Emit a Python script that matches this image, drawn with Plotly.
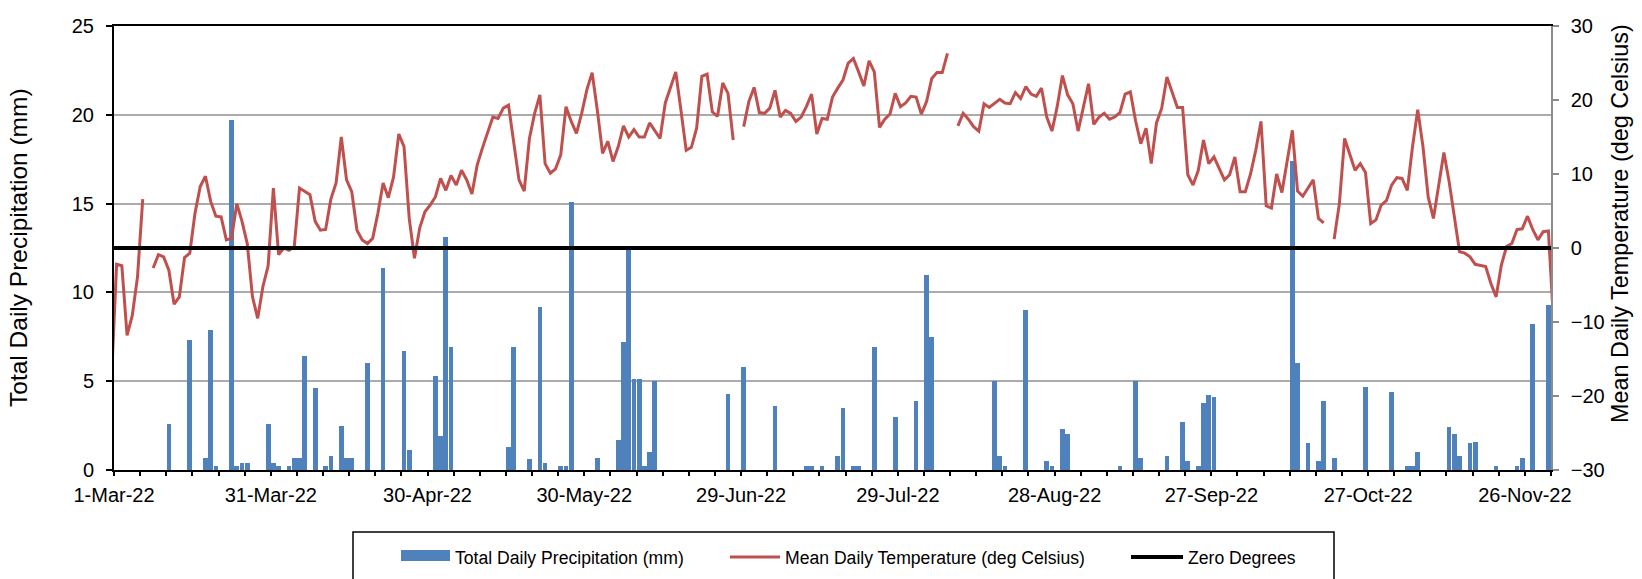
import pandas as pd
import plotly.graph_objects as go

# ---------------- data ----------------
# daily dates (28-Feb-22 .. 1-Dec-22); the axis shows 1-Mar-22 .. 1-Dec-22
dates = pd.date_range("2022-02-28", "2022-12-01", freq="D").strftime("%Y-%m-%d").tolist()

# Total Daily Precipitation (mm)
precip_feb28 = [0]
precip_mar = [0, 0, 0, 0, 0, 0, 0, 0, 0, 0,
              2.6, 0, 0, 0, 7.3, 0, 0, 0.7, 7.9, 0.2,
              0, 0, 19.7, 0.2, 0.4, 0.4, 0, 0, 0, 2.6,
              0.4]
precip_apr = [0.2, 0, 0.2, 0.7, 0.7, 6.4, 0, 4.6, 0, 0.2,
              0.8, 0, 2.5, 0.7, 0.7, 0, 0, 6.0, 0, 0,
              11.4, 0, 0, 0, 6.7, 1.1, 0, 0, 0, 0]
precip_may = [5.3, 1.9, 13.1, 6.9, 0, 0, 0, 0, 0, 0,
              0, 0, 0, 0, 1.3, 6.9, 0, 0, 0.6, 0,
              9.2, 0.4, 0, 0, 0.2, 0.2, 15.1, 0, 0, 0,
              0]
precip_jun = [0.7, 0, 0, 0, 1.7, 7.2, 12.5, 5.1, 5.1, 0.2,
              1.0, 5.0, 0, 0, 0, 0, 0, 0, 0, 0,
              0, 0, 0, 0, 0, 4.3, 0, 0, 5.8, 0]
precip_jul = [0, 0, 0, 0, 3.6, 0, 0, 0, 0, 0,
              0.2, 0.2, 0, 0.2, 0, 0, 0.8, 3.5, 0, 0.2,
              0.2, 0, 0, 6.9, 0, 0, 0, 3.0, 0, 0,
              0]
precip_aug = [3.9, 0, 11.0, 7.5, 0, 0, 0, 0, 0, 0,
              0, 0, 0, 0, 0, 5.0, 0.8, 0.2, 0, 0,
              0, 9.0, 0, 0, 0, 0.5, 0.2, 0, 2.3, 2.0,
              0]
precip_sep = [0, 0, 0, 0, 0, 0, 0, 0, 0.2, 0,
              0, 5.0, 0.7, 0, 0, 0, 0, 0.8, 0, 0,
              2.7, 0.5, 0, 0.2, 3.8, 4.2, 4.1, 0, 0, 0]
precip_oct = [0, 0, 0, 0, 0, 0, 0, 0, 0, 0,
              0, 17.4, 6.0, 0, 1.5, 0, 0.5, 3.9, 0, 0.7,
              0, 0, 0, 0, 0, 4.7, 0, 0, 0, 0,
              4.4]
precip_nov = [0, 0, 0.2, 0.2, 1.0, 0, 0, 0, 0, 0,
              2.4, 2.0, 0.8, 0, 1.5, 1.6, 0, 0, 0, 0.2,
              0, 0, 0, 0.2, 0.7, 0, 8.2, 0, 0, 9.3]
precip_dec1 = [0]

# Mean Daily Temperature (deg Celsius); None = missing day
temp_feb28 = [-18.0]
temp_mar = [-2.2, -2.4, -11.8, -9.1, -3.9, 6.6, None, -2.7, -0.9, -1.2,
            -3.0, -7.6, -6.6, -1.3, -0.7, 4.7, 8.3, 9.7, 6.3, 4.3,
            4.2, 1.1, 1.3, 6.0, 3.6, 0.6, -6.6, -9.5, -5.2, -2.4,
            8.1]
temp_apr = [-0.9, 0.0, -0.3, 0.2, 8.1, 7.6, 7.2, 3.6, 2.4, 2.5,
            6.6, 8.8, 15.0, 9.2, 7.6, 2.4, 1.1, 0.6, 1.3, 4.7,
            8.8, 6.8, 9.6, 15.4, 13.7, 4.0, -1.4, 2.7, 4.9, 5.8]
temp_may = [6.9, 9.4, 7.8, 9.8, 8.5, 10.5, 9.2, 7.3, 11.2, 13.5,
            15.7, 17.7, 17.5, 18.9, 19.3, 13.9, 9.2, 7.7, 14.8, 18.2,
            20.7, 11.4, 10.1, 10.7, 12.6, 19.1, 17.1, 15.5, 18.2, 21.4,
            23.7]
temp_jun = [18.6, 12.8, 14.4, 11.7, 13.7, 16.5, 15.0, 16.0, 15.0, 15.0,
            16.9, 15.9, 14.8, 19.6, 21.7, 23.8, 18.6, 13.2, 13.6, 16.2,
            23.2, 23.5, 18.4, 17.8, 22.3, 20.9, 14.6, None, 16.4, 19.8]
temp_jul = [21.7, 18.3, 18.2, 18.9, 21.3, 17.7, 18.6, 18.2, 17.1, 17.7,
            19.1, 20.8, 15.4, 17.5, 17.4, 20.4, 21.6, 22.7, 25.0, 25.6,
            23.8, 21.9, 25.3, 23.8, 16.3, 17.4, 18.1, 20.9, 19.1, 19.6,
            20.5]
temp_aug = [20.4, 18.1, 19.8, 22.9, 23.7, 23.7, 26.3, None, 16.5, 18.2,
            17.4, 16.4, 15.8, 19.5, 19.0, 19.5, 20.1, 19.6, 19.5, 21.0,
            20.2, 21.8, 20.8, 20.5, 21.6, 17.7, 15.8, 19.1, 23.3, 20.7,
            19.5]
temp_sep = [15.8, 19.1, 22.2, 16.7, 17.7, 18.2, 17.4, 17.7, 18.3, 20.8,
            21.1, 17.2, 14.1, 16.2, 11.4, 16.9, 18.9, 23.1, 20.9, 19.0,
            19.0, 9.9, 8.5, 10.5, 14.6, 11.4, 12.3, 10.8, 9.2, 9.9]
temp_oct = [12.3, 7.6, 7.6, 10.0, 13.2, 17.1, 5.7, 5.4, 10.0, 7.5,
            11.5, 15.9, 7.7, 7.0, 8.1, 9.2, 4.0, 3.4, None, 1.2,
            6.0, 14.8, 12.8, 10.5, 11.4, 10.2, 3.3, 3.8, 5.8, 6.4,
            8.5]
temp_nov = [9.5, 9.4, 7.8, 13.7, 18.7, 13.7, 6.9, 4.0, 8.3, 12.9,
            9.0, 4.5, -0.5, -0.7, -1.2, -2.2, -2.3, -2.5, -4.8, -6.6,
            -2.3, 0.2, 0.6, 2.5, 2.6, 4.3, 2.5, 1.1, 2.2, 2.3]
temp_dec1 = [-10.0]

precipitation = (precip_feb28 + precip_mar + precip_apr + precip_may + precip_jun +
                 precip_jul + precip_aug + precip_sep + precip_oct + precip_nov + precip_dec1)
temperature = (temp_feb28 + temp_mar + temp_apr + temp_may + temp_jun +
               temp_jul + temp_aug + temp_sep + temp_oct + temp_nov + temp_dec1)
zero_degrees = [0] * len(dates)
assert len(precipitation) == len(dates) == len(temperature)

x_range = ["2022-03-01", "2022-12-01"]
name_p = "Total Daily Precipitation (mm)"
name_t = "Mean Daily Temperature (deg Celsius)"
name_z = "Zero Degrees"

# ---------------- style ----------------
FONT = "Liberation Sans, Arial, sans-serif"
BLUE = "#4F81BD"
RED = "#C0504D"
DAY_MS = 86400000

# figure pixel geometry (for paper coordinates)
W, H = 1642, 579
L, R, T, B = 114, 91, 26, 109
PW, PH = W - L - R, H - T - B


def px(xp):
    return (xp - L) / PW


def py(yp):
    return (H - B - yp) / PH


fig = go.Figure()

fig.add_trace(go.Bar(
    x=dates, y=precipitation, name=name_p, yaxis="y",
    xperiod=DAY_MS, xperiodalignment="middle",
    width=0.9 * DAY_MS, marker=dict(color=BLUE, line=dict(width=0)),
    showlegend=False, legendgroup="p",
))
# legend entry for the precipitation bars (wide swatch like the original)
fig.add_trace(go.Scatter(
    x=[None], y=[None], mode="lines", name=name_p, legendgroup="p",
    line=dict(color=BLUE, width=10), fill="toself", fillcolor=BLUE,
    legend="legend",
))
fig.add_trace(go.Scatter(
    x=dates, y=temperature, name=name_t, yaxis="y2", mode="lines",
    xperiod=DAY_MS, xperiodalignment="middle",
    line=dict(color=RED, width=3), connectgaps=False, legend="legend2",
))
fig.add_trace(go.Scatter(
    x=dates, y=zero_degrees, name=name_z, yaxis="y2", mode="lines",
    xperiod=DAY_MS, xperiodalignment="middle",
    line=dict(color="black", width=4), legend="legend3",
))

tickfont = dict(family=FONT, size=20, color="black")
legfont = dict(family=FONT, size=17.6, color="black")
leg_y = py(557)

fig.update_layout(
    width=W, height=H,
    margin=dict(l=L, r=R, t=T, b=B, pad=0, autoexpand=False),
    paper_bgcolor="white", plot_bgcolor="white",
    bargap=0, barmode="overlay",
    font=dict(family=FONT, color="black"),
    xaxis=dict(
        type="date", range=x_range, automargin=False,
        tick0="2022-03-01", dtick=30 * DAY_MS, tickformat="%-d-%b-%y",
        ticks="outside", ticklen=4, tickwidth=1.5, tickcolor="black",
        minor=dict(dtick=5 * DAY_MS, tick0="2022-03-01", ticks="outside",
                   ticklen=4, tickwidth=1.5, tickcolor="black", showgrid=False),
        showline=True, linecolor="black", linewidth=2, mirror=True,
        showgrid=False, zeroline=False, tickfont=tickfont, ticklabelstandoff=2,
    ),
    yaxis=dict(
        range=[0, 25], dtick=5, tick0=0, automargin=False,
        ticks="outside", ticklen=6, tickwidth=2, tickcolor="black",
        showline=True, linecolor="black", linewidth=2,
        showgrid=True, gridcolor="#ABABAB", gridwidth=1.5,
        zeroline=False, tickfont=tickfont, ticklabelstandoff=8,
    ),
    yaxis2=dict(
        range=[-30, 30], dtick=10, tick0=0, overlaying="y", side="right",
        automargin=False,
        ticks="outside", ticklen=6, tickwidth=1.5, tickcolor="#8C8C8C",
        showline=True, linecolor="#8C8C8C", linewidth=1.5,
        showgrid=False, zeroline=False, tickfont=tickfont, ticklabelstandoff=8,
    ),
    legend=dict(orientation="h", x=px(396), y=leg_y, xanchor="left", yanchor="middle",
                itemwidth=49, font=legfont, bgcolor="rgba(0,0,0,0)", borderwidth=0),
    legend2=dict(orientation="h", x=px(725), y=leg_y, xanchor="left", yanchor="middle",
                 itemwidth=50, font=legfont, bgcolor="rgba(0,0,0,0)", borderwidth=0),
    legend3=dict(orientation="h", x=px(1126), y=leg_y, xanchor="left", yanchor="middle",
                 itemwidth=52, font=legfont, bgcolor="rgba(0,0,0,0)", borderwidth=0),
    shapes=[dict(type="rect", xref="paper", yref="paper",
                 x0=px(353), x1=px(1334), y0=py(532), y1=py(600),
                 line=dict(color="black", width=1.5), fillcolor="rgba(0,0,0,0)")],
    annotations=[
        dict(text=name_p, textangle=-90, xref="paper", yref="paper",
             x=px(18), y=py(248), xanchor="center", yanchor="middle",
             showarrow=False, font=dict(family=FONT, size=24.5, color="black")),
        dict(text=name_t, textangle=-90, xref="paper", yref="paper",
             x=px(1620), y=py(224), xanchor="center", yanchor="middle",
             showarrow=False, font=dict(family=FONT, size=23.4, color="black")),
    ],
)

fig.write_html(
    "out.html",
    config={"displayModeBar": False},
    post_script="document.body.style.margin='0px';document.body.style.overflow='hidden';",
)
